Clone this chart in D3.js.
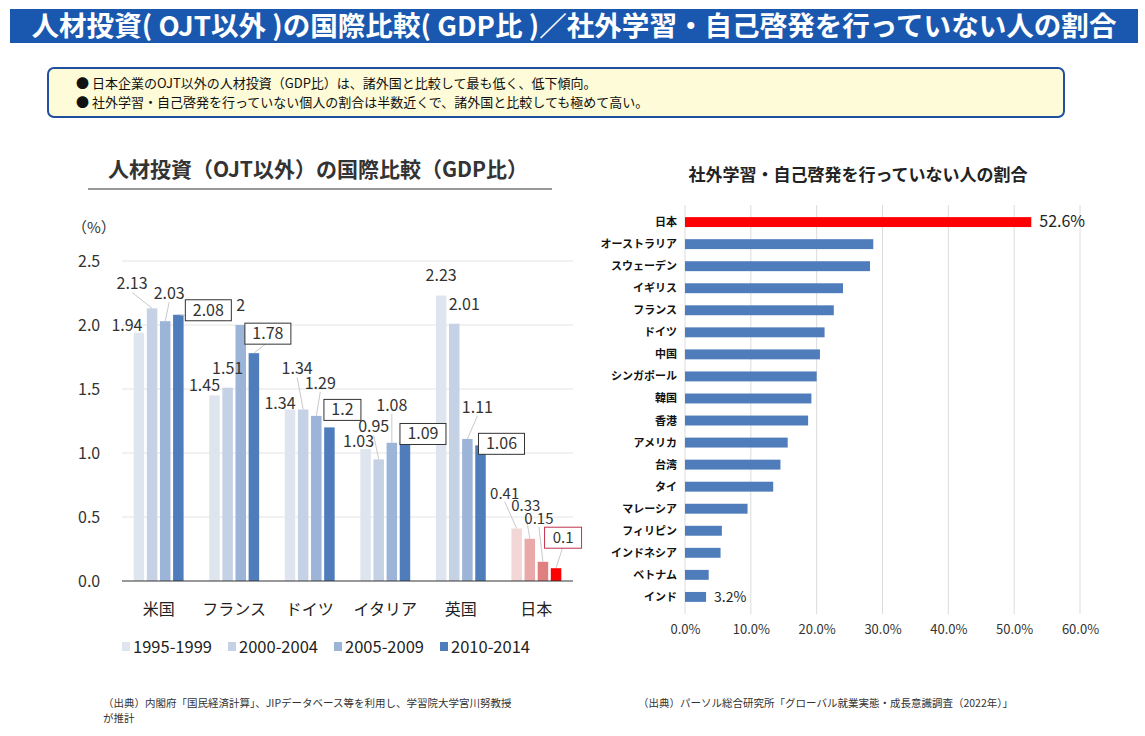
<!DOCTYPE html>
<html><head><meta charset="utf-8">
<script src="https://cdn.jsdelivr.net/npm/d3@7"></script>
<style>body{margin:0;background:#fff;font-family:"Noto Sans CJK JP","Noto Sans",sans-serif;}</style>
</head><body><div id="chart"></div>
<script>
// 左: 人材投資（OJT以外）の国際比較（GDP比）
const countries = ['米国', 'フランス', 'ドイツ', 'イタリア', '英国', '日本'];
const periods = ['1995-1999', '2000-2004', '2005-2009', '2010-2014'];
const gdpValues = [
  [1.94, 2.13, 2.03, 2.08],
  [1.45, 1.51, 2.00, 1.78],
  [1.34, 1.34, 1.29, 1.20],
  [1.03, 0.95, 1.08, 1.09],
  [2.23, 2.01, 1.11, 1.06],
  [0.41, 0.33, 0.15, 0.10]
];
const gdpLabels = [
  ['1.94', '2.13', '2.03', '2.08'],
  ['1.45', '1.51', '2', '1.78'],
  ['1.34', '1.34', '1.29', '1.2'],
  ['1.03', '0.95', '1.08', '1.09'],
  ['2.23', '2.01', '1.11', '1.06'],
  ['0.41', '0.33', '0.15', '0.1']
];
const yTicks = [0, 0.5, 1.0, 1.5, 2.0, 2.5];

// 右: 社外学習・自己啓発を行っていない人の割合
const nations = ['日本', 'オーストラリア', 'スウェーデン', 'イギリス', 'フランス', 'ドイツ', '中国',
  'シンガポール', '韓国', '香港', 'アメリカ', '台湾', 'タイ', 'マレーシア', 'フィリピン',
  'インドネシア', 'ベトナム', 'インド'];
const noStudyRates = [52.6, 28.6, 28.1, 24.0, 22.6, 21.2, 20.5, 20.0, 19.2, 18.7, 15.6, 14.5, 13.4, 9.5, 5.6, 5.4, 3.6, 3.2];
const xTicks = [0, 10, 20, 30, 40, 50, 60];

// レイアウト用 (ラベル位置のずらし量)
const labelShift = [
  [[-12, -8], [-20, -25], [4, -28], [30, -5]],
  [[-10, -10], [0, -20], [0, -20], [14, -20]],
  [[-10, -6], [-6, -41], [4, -33], [13, -18]],
  [[-7, -8], [-5, -33], [0, -38], [18, -8]],
  [[0, -21], [10, -20], [10, -32], [21, -2]],
  [[-12, -36], [-4, -34], [-4, -44], [7, -31]]
];
const blues = ['#dfe5ef', '#c5d2e6', '#9cb4d8', '#4f7dbc'];
const reds = ['#f3d6d6', '#eaa9a9', '#e07f7f', '#ff0000'];

const W = 1145, H = 736;
const svg = d3.select('#chart').append('svg').attr('width', W).attr('height', H);

// ヘッダー
svg.append('rect').attr('x', 10).attr('y', 9).attr('width', 1128).attr('height', 34).attr('fill', '#1a58b0');
svg.append('text').attr('x', 574).attr('y', 36).attr('text-anchor', 'middle')
  .attr('textLength', 1085).attr('lengthAdjust', 'spacingAndGlyphs')
  .style('font-size', '27px').style('font-weight', 'bold').style('fill', '#fff')
  .text('人材投資( OJT以外 )の国際比較( GDP比 )／社外学習・自己啓発を行っていない人の割合');

svg.append('rect').attr('x', 48).attr('y', 68).attr('width', 1016).attr('height', 49).attr('rx', 6)
  .attr('fill', '#fdfbd8').attr('stroke', '#1f4f9e').attr('stroke-width', 2);
const bullets = ['●  日本企業のOJT以外の人材投資（GDP比）は、諸外国と比較して最も低く、低下傾向。',
  '●  社外学習・自己啓発を行っていない個人の割合は半数近くで、諸外国と比較しても極めて高い。'];
bullets.forEach((t, i) => svg.append('text').attr('x', 76).attr('y', 88 + i * 19)
  .style('font-size', '13px').style('fill', '#111').text(t));

// ===== 左チャート =====
const m = { left: 122, right: 573, top: 261, bottom: 581 };
svg.append('text').attr('x', 318).attr('y', 177).attr('text-anchor', 'middle')
  .style('font-size', '21px').style('font-weight', 'bold').style('fill', '#333')
  .text('人材投資（OJT以外）の国際比較（GDP比）');
svg.append('line').attr('x1', 88).attr('x2', 552).attr('y1', 189).attr('y2', 189).attr('stroke', '#333');
svg.append('text').attr('x', 72).attr('y', 233).style('font-size', '15px').style('fill', '#333').text('（%）');

const y = d3.scaleLinear().domain([0, 2.5]).range([m.bottom, m.top]);
const x0 = d3.scaleBand().domain(countries).range([m.left, m.right]).paddingInner(0.27).paddingOuter(0.12);
const x1 = d3.scaleBand().domain(periods).range([0, x0.bandwidth()]).padding(0.2);

svg.append('g').selectAll('line').data(yTicks.slice(1)).join('line')
  .attr('x1', m.left).attr('x2', m.right).attr('y1', d => y(d)).attr('y2', d => y(d))
  .attr('stroke', '#e4e4e4');
svg.append('g').selectAll('text').data(yTicks).join('text')
  .attr('x', 78).attr('y', d => y(d) + 6)
  .style('font-size', '16px').style('fill', '#333').text(d => d.toFixed(1));

const barLayer = svg.append('g');
const labelLayer = svg.append('g');
countries.forEach((c, ci) => {
  periods.forEach((p, pi) => {
    const v = gdpValues[ci][pi];
    const cx = x0(c) + x1(p) + x1.bandwidth() / 2;
    barLayer.append('rect').attr('x', x0(c) + x1(p)).attr('y', y(v)).attr('width', x1.bandwidth())
      .attr('height', y(0) - y(v)).attr('fill', c === '日本' ? reds[pi] : blues[pi]);
    const [dx, dy] = labelShift[ci][pi];
    const tx = cx + dx, ty = y(v) + dy;
    if (Math.hypot(dx, dy) > 24) {
      labelLayer.append('line').attr('x1', tx).attr('y1', ty + 9).attr('x2', cx).attr('y2', y(v))
        .attr('stroke', '#bbb').attr('stroke-width', 0.8);
    }
    if (pi === 3) {
      const w = gdpLabels[ci][pi].length * 9 + 10;
      labelLayer.append('rect').attr('x', tx - w / 2).attr('y', ty - 10).attr('width', w).attr('height', 21)
        .attr('fill', '#fff').attr('stroke', c === '日本' ? '#c0334d' : '#333');
    }
    labelLayer.append('text').attr('x', tx).attr('y', ty + 6).attr('text-anchor', 'middle')
      .style('font-size', c === '日本' ? '15px' : '16px').style('fill', '#333').text(gdpLabels[ci][pi]);
  });
});
svg.append('line').attr('x1', m.left).attr('x2', m.right).attr('y1', y(0)).attr('y2', y(0)).attr('stroke', '#333');
svg.append('g').selectAll('text').data(countries).join('text')
  .attr('x', d => x0(d) + x0.bandwidth() / 2).attr('y', 615).attr('text-anchor', 'middle')
  .style('font-size', '16px').style('fill', '#222').text(d => d);

const leg = svg.append('g').attr('transform', 'translate(122,653)');
periods.forEach((p, i) => {
  const lg = leg.append('g').attr('transform', `translate(${i * 106},0)`);
  lg.append('rect').attr('x', 0).attr('y', -11).attr('width', 8).attr('height', 9).attr('fill', blues[i]);
  lg.append('text').attr('x', 11).attr('y', 0).style('font-size', '16.5px').style('fill', '#222').text(p);
});

// ===== 右チャート =====
const r = { left: 685, right: 1080, top: 205, bottom: 614 };
svg.append('text').attr('x', 858).attr('y', 181).attr('text-anchor', 'middle')
  .style('font-size', '17px').style('font-weight', 'bold').style('fill', '#222')
  .text('社外学習・自己啓発を行っていない人の割合');
const xr = d3.scaleLinear().domain([0, 60]).range([r.left, r.right]);
const yr = d3.scaleBand().domain(nations).range([r.top, r.bottom]).padding(0.55);

svg.append('g').selectAll('line').data(xTicks).join('line')
  .attr('x1', d => xr(d)).attr('x2', d => xr(d)).attr('y1', r.top).attr('y2', r.bottom)
  .attr('stroke', '#dcdcdc');
svg.append('g').attr('transform', `translate(0,${r.bottom + 8})`)
  .call(d3.axisBottom(xr).tickValues(xTicks).tickSize(0).tickFormat(d => d.toFixed(1) + '%'))
  .call(g => g.select('.domain').remove())
  .call(g => g.selectAll('text').style('font-size', '13px').style('fill', '#333')
    .style('font-family', '"Noto Sans CJK JP",sans-serif'));

svg.append('g').selectAll('rect').data(nations).join('rect')
  .attr('x', xr(0)).attr('y', d => yr(d)).attr('width', (d, i) => xr(noStudyRates[i]) - xr(0))
  .attr('height', yr.bandwidth()).attr('fill', d => d === '日本' ? '#ff0000' : '#4f7dbc');
svg.append('g').selectAll('text').data(nations).join('text')
  .attr('x', 677).attr('y', d => yr(d) + yr.bandwidth() / 2 + 4).attr('text-anchor', 'end')
  .style('font-size', '11px').style('font-weight', 'bold').style('fill', '#111').text(d => d);
[0, nations.length - 1].forEach(i => {
  svg.append('text').attr('x', xr(noStudyRates[i]) + 8).attr('y', yr(nations[i]) + yr.bandwidth() / 2 + 5)
    .style('font-size', i === 0 ? '16px' : '14px').style('fill', '#222').text(noStudyRates[i].toFixed(1) + '%');
});

// 出典
svg.append('text').attr('x', 103).attr('y', 707).style('font-size', '10.5px').style('fill', '#333')
  .text('（出典）内閣府「国民経済計算」、JIPデータベース等を利用し、学習院大学宮川努教授');
svg.append('text').attr('x', 103).attr('y', 722).style('font-size', '10.5px').style('fill', '#333').text('が推計');
svg.append('text').attr('x', 638).attr('y', 707).style('font-size', '10.5px').style('fill', '#333')
  .text('（出典）パーソル総合研究所「グローバル就業実態・成長意識調査（2022年）」');
</script></body></html>
